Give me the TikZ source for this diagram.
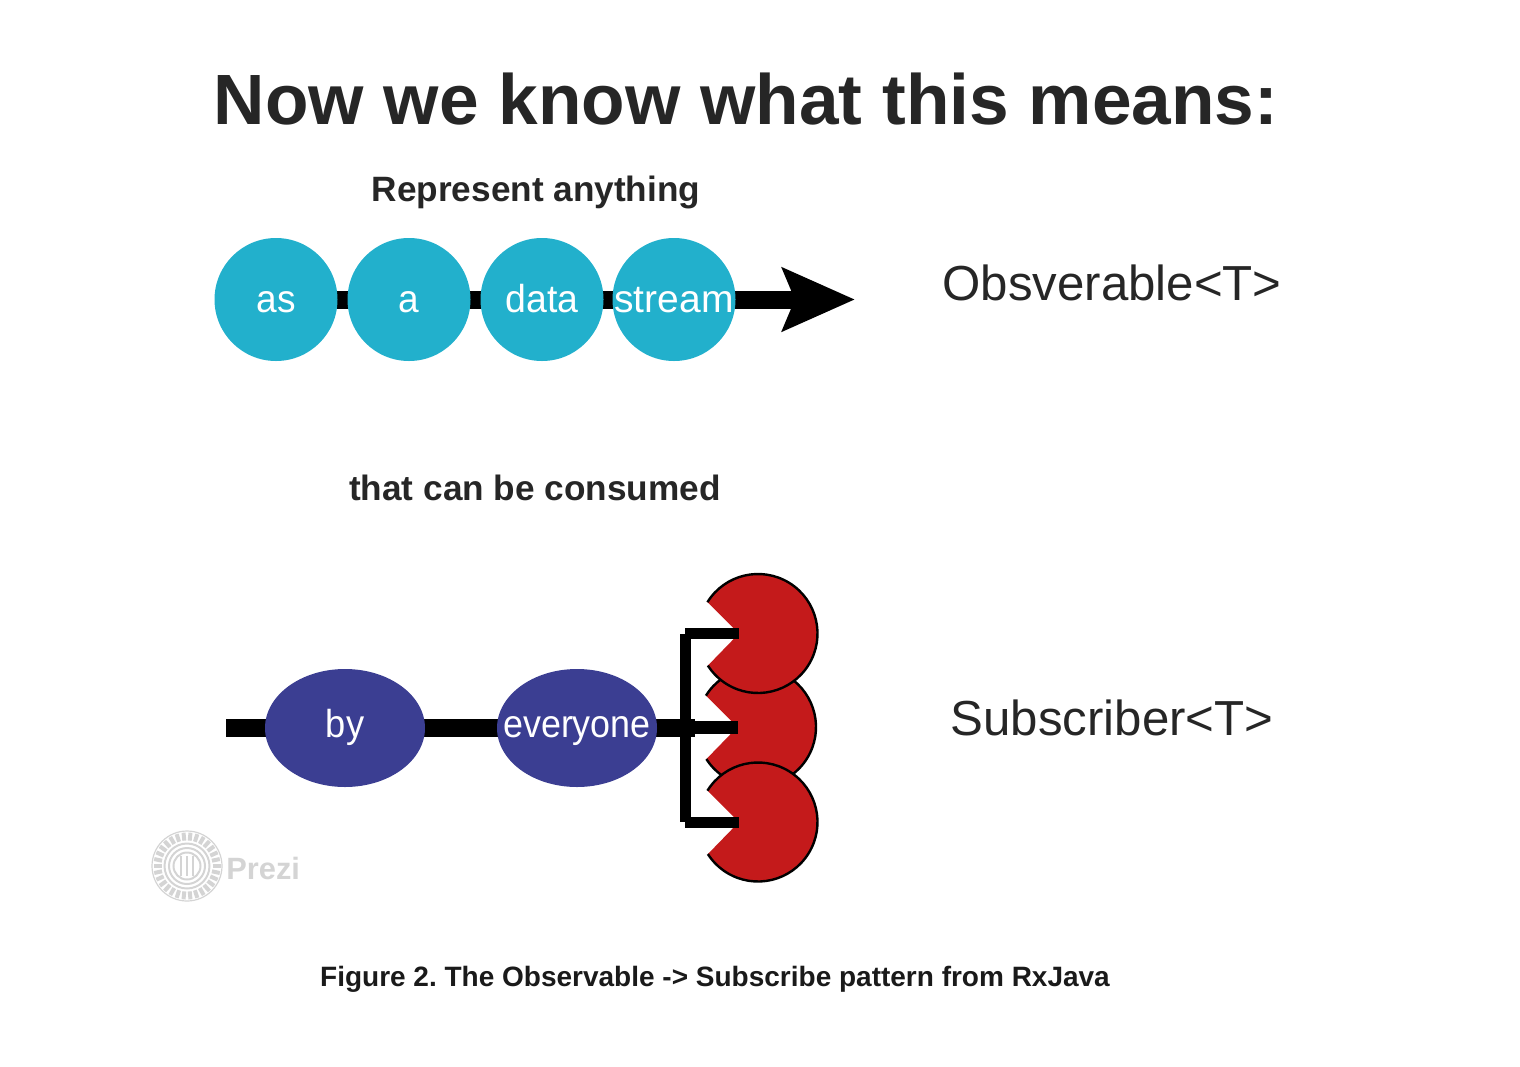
\documentclass[tikz,border=0pt]{standalone}
\usepackage{fontspec}
\setmainfont{Liberation Sans}
\usetikzlibrary{arrows.meta,backgrounds,shapes.geometric}
\definecolor{ink}{HTML}{262626}
\definecolor{capink}{HTML}{1A1A1A}
\definecolor{cyanball}{HTML}{22B0CC}
\definecolor{blueball}{HTML}{3B3E92}
\definecolor{redball}{HTML}{C41A1B}
\definecolor{logogray}{HTML}{D4D4D4}
\tikzset{
  txt/.style={anchor=base,text=ink,inner sep=0pt,font=\fontsize{#1}{#1}\selectfont},
  head/.style={anchor=base,text=ink,inner sep=0pt,font=\fontsize{#1}{#1}\selectfont\bfseries},
  biglabel/.style={font=\fontsize{19.5}{19.5}\selectfont},
  ball/.style={circle,fill=cyanball,minimum size=61.5pt,inner sep=0pt,text=white,text height=12.5pt,text depth=0pt,biglabel},
  oval/.style={ellipse,fill=blueball,minimum width=80pt,minimum height=59pt,inner sep=0pt,text=white,text height=9pt,text depth=0pt,biglabel},
  pipe/.style={line width=9pt,black},
  fork/.style={line width=5.5pt,black}
}
\newcommand{\narrow}[2]{\makebox[0pt]{\scalebox{#1}[1]{#2}}}
\newcommand{\pacman}[3]{%
  \begin{scope}[shift={(#1,#2)}]
    \fill[redball] (211.8:59.5) arc[start angle=211.8,end angle=507.4,radius=59.5] -- (-19,0) -- cycle;
    \draw[black,line width=1.2pt] (211.8:59.5) arc[start angle=211.8,end angle=507.4,radius=59.5];
    \coordinate (#3) at (-19,0);
  \end{scope}}
\begin{document}
\frenchspacing
\begin{tikzpicture}[x=0.5pt,y=-0.5pt]
\useasboundingbox (0,0) rectangle (1520,1066);
% titles
\node[head=35.6] (title) at (746,124) {Now we know what this means:};
\node[head=17.6] (rep) at (536,201) {Represent anything};
\node[head=17.6] (con) at (535,500) {that can be consumed};
\node[head=14,text=capink] (cap) at (715,986) {Figure 2. The Observable -> Subscribe pattern from RxJava};
\node[txt=24.6] (obs) at (1112,300) {Obsverable<T>};
\node[txt=24.6] (sub) at (1112,735) {Subscriber<T>};
% top stream
\node[ball] (as) at (276,299.5) {\narrow{0.95}{as}};
\node[ball] (a) at (409,299.5) {\narrow{0.95}{a}};
\node[ball] (data) at (542,299.5) {\narrow{0.96}{data}};
\node[ball] (stream) at (674,299.5) {\narrow{1}{stream}};
\coordinate (tip) at (855,299.5);
\begin{scope}[on background layer]
  \draw[pipe] (as.center) -- (a.center) -- (data.center) -- (stream.center);
  \draw[pipe,-{Stealth[length=36pt,width=31pt,inset=6pt]}] (stream.center) -- (tip);
\end{scope}
% lower stream
\node[oval] (by) at (345,728) {\narrow{0.93}{by}};
\node[oval] (everyone) at (577,728) {\narrow{0.92}{everyone}};
\coordinate (start) at (226,728);
\coordinate (junction) at (695,728);
\begin{scope}[on background layer]
  \draw[pipe] (start) -- (by.center) -- (everyone.center) -- (junction);
\end{scope}
% consumers
\pacman{756.5}{727}{m2}
\pacman{758}{633.5}{m1}
\pacman{758}{822}{m3}
\coordinate (trunk1) at (685,633.5);
\coordinate (trunk2) at (685,727);
\coordinate (trunk3) at (685,822);
\draw[fork] (trunk1) -- (trunk3);
\draw[fork] (trunk1) -- (m1);
\draw[fork] (trunk3) -- (m3);
\draw[line width=6.5pt] (trunk2) -- (m2);
% Prezi logo
\begin{scope}[shift={(187,866)},logogray]
  \foreach \a in {0,12,...,348}
    \draw[line width=2pt] (\a:25.5) -- (\a:33.5);
  \draw[line width=.6pt] (0,0) circle[radius=35];
  \draw[line width=1pt] (0,0) circle[radius=22.5];
  \draw[line width=1pt] (0,0) circle[radius=18];
  \draw[line width=1pt] (0,0) circle[radius=13.5];
  \foreach \x in {-6,0,6}
    \draw[line width=1.4pt] (\x,-10) -- (\x,10);
\end{scope}
\node[anchor=base west,inner sep=0pt,text=logogray,font=\fontsize{15.4}{15.4}\selectfont\bfseries] (logo) at (226,879) {Prezi};
\end{tikzpicture}
\end{document}
